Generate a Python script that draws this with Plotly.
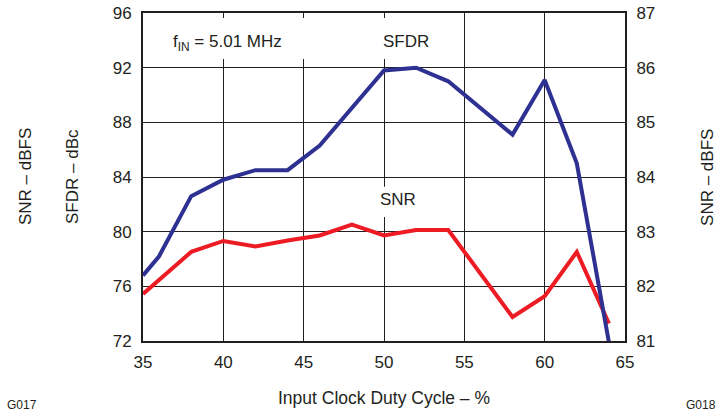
import plotly.graph_objects as go

# ---- data ----
duty_sfdr = [35, 36, 38, 40, 42, 44, 46, 50, 52, 54, 58, 60, 62, 64]
sfdr = [76.8, 78.2, 82.6, 83.8, 84.5, 84.5, 86.3, 91.8, 92.0, 91.0, 87.1, 91.1, 85.0, 71.9]

duty_snr = [35, 38, 40, 42, 44, 46, 48, 50, 52, 54, 58, 60, 62, 64]
snr = [81.86, 82.63, 82.83, 82.73, 82.84, 82.93, 83.13, 82.93, 83.03, 83.03, 81.44, 81.82, 82.63, 81.32]

x_ticks = [35, 40, 45, 50, 55, 60, 65]
sfdr_ticks = [72, 76, 80, 84, 88, 92, 96]
snr_ticks = [81, 82, 83, 84, 85, 86, 87]

FONT = "Liberation Sans, Arial, sans-serif"
TXT = "#231f20"
BLUE = "#2e3192"
RED = "#ed1c24"

fig = go.Figure()
fig.add_trace(go.Scatter(x=duty_snr, y=snr, mode="lines", yaxis="y",
                         line=dict(color=RED, width=4), showlegend=False))
fig.add_trace(go.Scatter(x=duty_sfdr, y=sfdr, mode="lines", yaxis="y2",
                         line=dict(color=BLUE, width=4), showlegend=False))

axis_common = dict(showline=True, linecolor=TXT, linewidth=2, mirror=True,
                   ticks="", tickfont=dict(family=FONT, size=17, color=TXT),
                   zeroline=False, automargin=False)

fig.update_layout(
    width=727, height=412,
    margin=dict(l=143, r=102, t=13, b=71, autoexpand=False),
    paper_bgcolor="white", plot_bgcolor="white",
    font=dict(family=FONT, color=TXT),
    xaxis=dict(range=[35, 65], tickvals=x_ticks, showgrid=True, gridcolor=TXT,
               gridwidth=1, ticklabelstandoff=5, **axis_common),
    yaxis=dict(range=[81, 87], tickvals=snr_ticks, side="right", showgrid=True,
               gridcolor=TXT, gridwidth=1, ticklabelstandoff=6, **axis_common),
    yaxis2=dict(range=[72, 96], tickvals=sfdr_ticks, side="left", overlaying="y",
                showgrid=False, ticklabelstandoff=6, **axis_common),
)

# white gaps in the grid behind the in-plot labels
for x0, x1, y0, y1 in [(36.3, 46.0, 86.16, 86.91), (49.5, 53.2, 86.16, 86.91),
                       (49.5, 52.3, 83.27, 83.82)]:
    fig.add_shape(type="rect", xref="x", yref="y", x0=x0, x1=x1, y0=y0, y1=y1,
                  fillcolor="white", line=dict(width=0), layer="between")

fig.add_annotation(x=40.26, y=93.8, xref="x", yref="y2", showarrow=False,
                   text="f<sub>IN</sub> = 5.01 MHz", font=dict(size=17, color=TXT))
fig.add_annotation(x=51.4, y=93.88, xref="x", yref="y2", showarrow=False,
                   text="SFDR", font=dict(size=17, color=TXT))
fig.add_annotation(x=50.84, y=82.32, xref="x", yref="y2", showarrow=False,
                   text="SNR", font=dict(size=17, color=TXT))

# axis titles
fig.add_annotation(x=-0.2448, y=0.5, xref="paper", yref="paper", showarrow=False,
                   xanchor="center", yanchor="middle",
                   text="SNR – dBFS", textangle=-90, font=dict(size=17, color=TXT))
fig.add_annotation(x=-0.1473, y=0.5, xref="paper", yref="paper", showarrow=False,
                   xanchor="center", yanchor="middle",
                   text="SFDR – dBc", textangle=-90, font=dict(size=17, color=TXT))
fig.add_annotation(x=1.170, y=0.5, xref="paper", yref="paper", showarrow=False,
                   xanchor="center", yanchor="middle",
                   text="SNR – dBFS", textangle=-90, font=dict(size=17, color=TXT))
fig.add_annotation(x=0.5, y=-0.1723, xref="paper", yref="paper", showarrow=False,
                   xanchor="center", yanchor="middle", text="Input Clock Duty Cycle – %",
                   font=dict(size=17.5, color=TXT))
fig.add_annotation(x=-0.2863, y=-0.195, xref="paper", yref="paper", showarrow=False,
                   xanchor="left", yanchor="middle", text="G017",
                   font=dict(size=12, color=TXT))
fig.add_annotation(x=1.193, y=-0.195, xref="paper", yref="paper", showarrow=False,
                   xanchor="right", yanchor="middle", text="G018",
                   font=dict(size=12, color=TXT))

fig.write_html("out.html", config={"displayModeBar": False},
               post_script="document.body.style.margin='0';document.body.style.overflow='hidden';")
